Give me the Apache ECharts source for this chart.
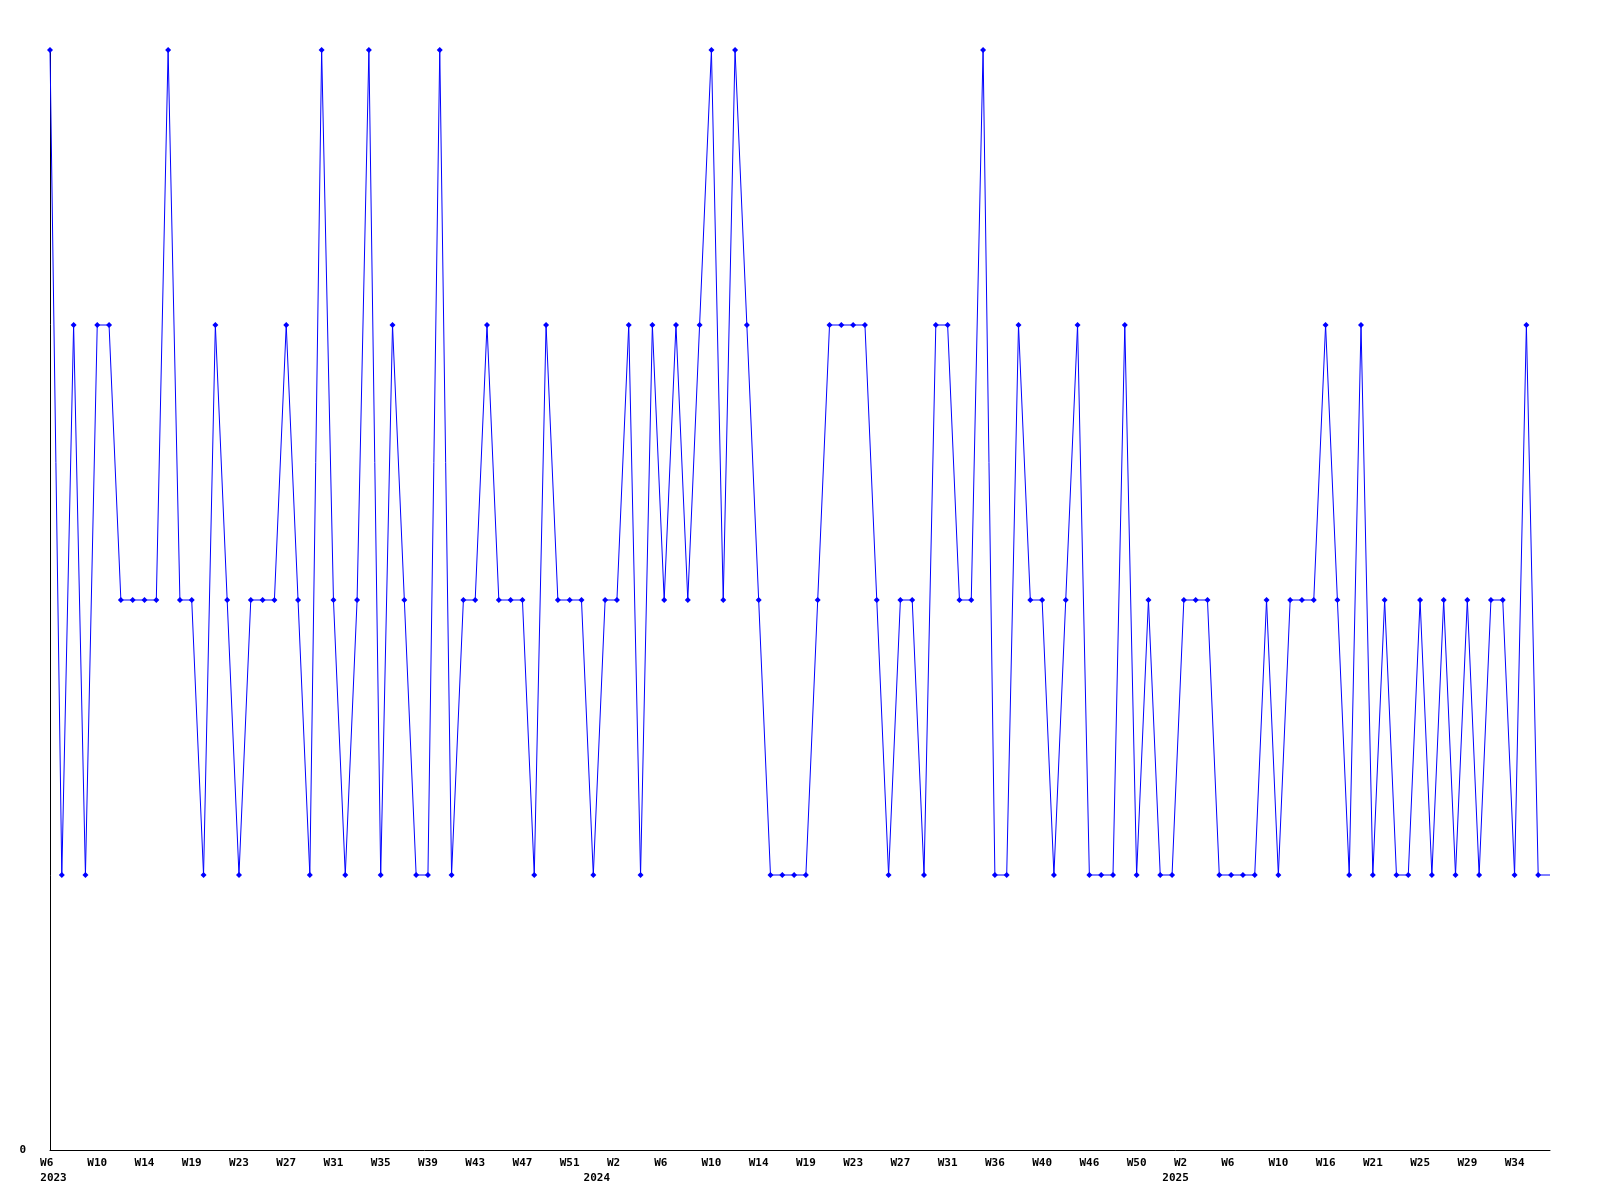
<!DOCTYPE html>
<html>
<head>
<meta charset="utf-8">
<script src="https://cdn.jsdelivr.net/npm/echarts@6/dist/echarts.min.js"></script>
<style>html,body{margin:0;padding:0;background:#fff}#c{width:1600px;height:1200px}</style>
</head>
<body>
<div id="c"></div>
<script>
const weeks = [
 'W6','W7','W8','W9','W10','W11','W12','W13','W14','W15','W16','W17','W19','W20','W21','W22',
 'W23','W24','W25','W26','W27','W28','W29','W30','W31','W32','W33','W34','W35','W36','W37','W38',
 'W39','W40','W41','W42','W43','W44','W45','W46','W47','W48','W49','W50','W51','W52',
 'W0','W1','W2','W3','W4','W5','W6','W7','W8','W9','W10','W11','W12','W13','W14','W15','W16','W17',
 'W19','W20','W21','W22','W23','W24','W25','W26','W27','W28','W29','W30','W31','W32','W33','W34',
 'W36','W37','W38','W39','W40','W41','W42','W44','W46','W47','W48','W49','W50','W51','W52',
 'W1','W2','W3','W4','W5','W6','W7','W8','W9','W10','W11','W12','W14','W16','W17','W18','W19',
 'W21','W22','W23','W24','W25','W26','W27','W28','W29','W30','W31','W32','W34','W35','W36','W37'
];
const years = [].concat(
  Array(46).fill('2023'),
  Array(49).fill('2024'),
  Array(33).fill('2025')
);
const values = [
 4,1,3,1,3,3,2,2,2,2,4,2,2,1,3,2,
 1,2,2,2,3,2,1,4,2,1,2,4,1,3,2,1,
 1,4,1,2,2,3,2,2,2,1,3,2,2,2,1,2,
 2,3,1,3,2,3,2,3,4,2,4,3,2,1,1,1,
 1,2,3,3,3,3,2,1,2,2,1,3,3,2,2,4,
 1,1,3,2,2,1,2,3,1,1,1,3,1,2,1,1,
 2,2,2,1,1,1,1,2,1,2,2,2,3,2,1,3,
 1,2,1,1,2,1,2,1,2,1,2,2,1,3,1,1
];
const yTicks = ['0'];

const FONT = '"DejaVu Sans Mono", monospace';
const chart = echarts.init(document.getElementById('c'), null, {renderer: 'canvas'});
const lastIdx = values.length - 1;
chart.setOption({
  animation: false,
  backgroundColor: '#ffffff',
  grid: {left: 50, right: 50, top: 50, bottom: 50, containLabel: false},
  xAxis: [{
    type: 'category',
    data: weeks,
    boundaryGap: false,
    axisLine: {show: true, lineStyle: {color: '#000', width: 1}},
    axisTick: {show: false},
    splitLine: {show: false},
    axisLabel: {
      interval: 3,
      margin: 8, color: '#000', fontFamily: FONT, fontWeight: 'bold', fontSize: 11,
      formatter: v => v.length < 3 ? v + ' ' : v
    }
  }, {
    type: 'category',
    data: weeks,
    boundaryGap: false,
    position: 'bottom',
    offset: 15,
    axisLine: {show: false},
    axisTick: {show: false},
    splitLine: {show: false},
    axisLabel: {
      interval: (i) => i === 0 || years[i] !== years[i - 1],
      margin: 8, color: '#000', fontFamily: FONT, fontWeight: 'bold', fontSize: 11,
      padding: [0, 0, 0, 7],
      formatter: (v, i) => years[i]
    }
  }],
  yAxis: {
    type: 'value', min: 0, max: 4, interval: 1,
    axisLine: {show: true, lineStyle: {color: '#000', width: 1}},
    axisTick: {show: false},
    splitLine: {show: false},
    axisLabel: {
      margin: 24, color: '#000', fontFamily: FONT, fontWeight: 'bold', fontSize: 11,
      formatter: v => yTicks.indexOf(String(v)) >= 0 ? String(v) : ''
    }
  },
  series: [{
    type: 'line',
    xAxisIndex: 0,
    data: values.map((v, i) => i === lastIdx ? {value: v, symbol: 'none'} : v),
    symbol: 'diamond',
    symbolSize: 6,
    showAllSymbol: true,
    lineStyle: {color: '#0000ff', width: 1},
    itemStyle: {color: '#0000ff', borderWidth: 0},
    emphasis: {disabled: true}
  }]
});
</script>
</body>
</html>
